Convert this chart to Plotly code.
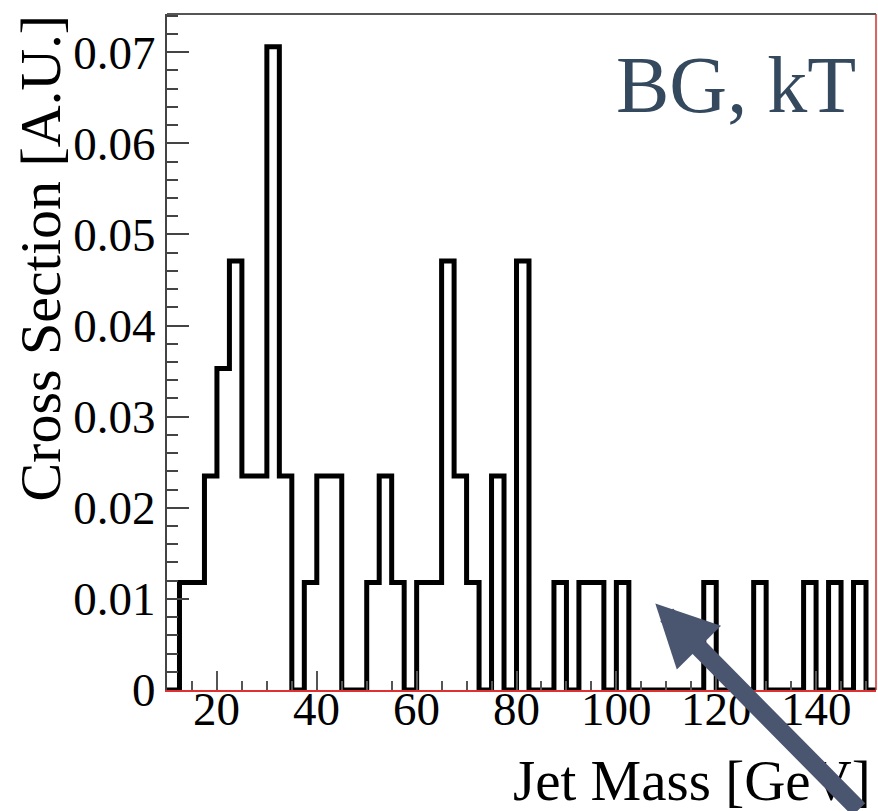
import plotly.graph_objects as go

# Bin edges (GeV), 2.5 GeV wide bins
bin_edges = [10.0, 12.5, 15.0, 17.5, 20.0, 22.5, 25.0, 27.5, 30.0, 32.5, 35.0, 37.5,
             40.0, 42.5, 45.0, 47.5, 50.0, 52.5, 55.0, 57.5, 60.0, 62.5, 65.0, 67.5,
             70.0, 72.5, 75.0, 77.5, 80.0, 82.5, 85.0, 87.5, 90.0, 92.5, 95.0, 97.5,
             100.0, 102.5, 105.0, 107.5, 110.0, 112.5, 115.0, 117.5, 120.0, 122.5,
             125.0, 127.5, 130.0, 132.5, 135.0, 137.5, 140.0, 142.5, 145.0, 147.5,
             150.0, 152.5]
# Cross section per bin [A.U.]
cross_section = [0.0, 0.0118, 0.0118, 0.0235, 0.0353, 0.0471, 0.0235, 0.0235, 0.0706, 0.0235,
                 0.0, 0.0118, 0.0235, 0.0235, 0.0, 0.0, 0.0118, 0.0235, 0.0118, 0.0,
                 0.0118, 0.0118, 0.0471, 0.0235, 0.0118, 0.0, 0.0235, 0.0, 0.0471, 0.0,
                 0.0, 0.0118, 0.0, 0.0118, 0.0118, 0.0, 0.0118, 0.0, 0.0, 0.0,
                 0.0, 0.0, 0.0, 0.0118, 0.0, 0.0, 0.0, 0.0118, 0.0, 0.0,
                 0.0, 0.0118, 0.0, 0.0118, 0.0, 0.0118, 0.0]

x_tick_vals = [20, 40, 60, 80, 100, 120, 140]
x_tick_text = ["20", "40", "60", "80", "100", "120", "140"]
y_tick_vals = [0, 0.01, 0.02, 0.03, 0.04, 0.05, 0.06, 0.07]
y_tick_text = ["0", "0.01", "0.02", "0.03", "0.04", "0.05", "0.06", "0.07"]

x_title = "Jet Mass [GeV]"
y_title = "Cross Section [A.U.]"
label_text = "BG, kT"

SERIF = "Liberation Serif, Times New Roman, serif"

xs = bin_edges[:-1] + [bin_edges[-1]]
ys = cross_section + [cross_section[-1]]

fig = go.Figure()
fig.add_trace(go.Scatter(
    x=xs, y=ys, mode="lines", line=dict(shape="hv", color="black", width=5),
    showlegend=False, hoverinfo="skip"))

# x tick labels placed close to the axis (ROOT style)
tick_annotations = [
    dict(text=t, x=v, xref="x", yref="paper", y=0.0135, xanchor="center", yanchor="top",
         showarrow=False, font=dict(family=SERIF, size=47, color="black"))
    for v, t in zip(x_tick_vals, x_tick_text)
]

fig.update_layout(
    width=878, height=811,
    margin=dict(l=167, r=2, t=14, b=121),
    paper_bgcolor="white", plot_bgcolor="white",
    font=dict(family=SERIF, size=47, color="black"),
    xaxis=dict(
        range=[10, 152], showgrid=False, zeroline=False,
        showline=True, linecolor="#e03030", linewidth=1.5,
        ticks="inside", ticklen=19, tickwidth=1.5, tickcolor="#555555",
        tickvals=x_tick_vals, showticklabels=False,
        minor=dict(dtick=5, tick0=0, ticks="inside", ticklen=9, tickwidth=1.5, tickcolor="#555555"),
    ),
    yaxis=dict(
        range=[0, 0.0742], showgrid=False, zeroline=False,
        showline=True, linecolor="#444444", linewidth=2,
        ticks="inside", ticklen=22, tickwidth=1.5, tickcolor="#444444",
        tickvals=y_tick_vals, ticktext=y_tick_text,
        tickfont=dict(family=SERIF, size=47, color="black"),
        minor=dict(dtick=0.002, tick0=0, ticks="inside", ticklen=11, tickwidth=1.5, tickcolor="#444444"),
    ),
    shapes=[
        dict(type="line", xref="paper", yref="paper", x0=0, x1=1, y0=1, y1=1,
             line=dict(color="#555555", width=2)),
        dict(type="line", xref="paper", yref="paper", x0=1, x1=1, y0=0, y1=1,
             line=dict(color="#d03030", width=1.5)),
    ],
    annotations=tick_annotations + [
        dict(text=x_title, xref="paper", yref="paper", x=0.996, y=-0.134,
             xanchor="right", yanchor="middle", showarrow=False,
             font=dict(family=SERIF, size=57, color="black")),
        dict(text=y_title, xref="paper", yref="paper", x=-0.179, y=1.0015,
             xanchor="center", yanchor="top", textangle=-90, showarrow=False,
             font=dict(family=SERIF, size=58, color="black")),
        dict(text=label_text, xref="paper", yref="paper", x=0.9746, y=0.895,
             xanchor="right", yanchor="middle", showarrow=False,
             font=dict(family=SERIF, size=80, color="#34495E")),
        dict(text="", xref="x", yref="y", x=107.8, y=0.0095,
             showarrow=True, arrowhead=2, arrowsize=0.69, arrowwidth=18,
             arrowcolor="#4A5670", ax=205, ay=244, standoff=0),
    ],
)

fig.write_html("out.html")
